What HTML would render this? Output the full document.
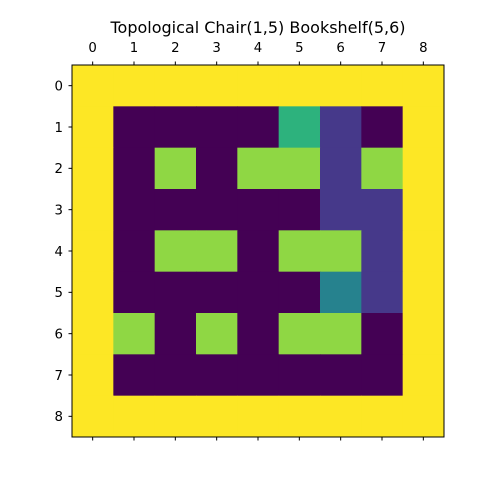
<!DOCTYPE html>
<html><head><meta charset="utf-8"><style>
body{margin:0;background:#fff;width:480px;height:480px;overflow:hidden}
text{font-family:"DejaVu Sans","Liberation Sans",sans-serif}
</style></head><body>
<svg id="chart" width="480" height="480"></svg>
<script>
const rowLabels = ["0","1","2","3","4","5","6","7","8"];
const colLabels = ["0","1","2","3","4","5","6","7","8"];
const palette = ["#440154","#46398a","#26828e","#2db27d","#8fd744","#fde725"];
const grid = [
 [5,5,5,5,5,5,5,5,5],
 [5,0,0,0,0,3,1,0,5],
 [5,0,4,0,4,4,1,4,5],
 [5,0,0,0,0,0,1,1,5],
 [5,0,4,4,0,4,4,1,5],
 [5,0,0,0,0,0,2,1,5],
 [5,4,0,4,0,4,4,0,5],
 [5,0,0,0,0,0,0,0,5],
 [5,5,5,5,5,5,5,5,5]
];
const title = "Topological Chair(1,5) Bookshelf(5,6)";
const NS="http://www.w3.org/2000/svg";
const svg=document.getElementById('chart');
const L=72,T=65,W=372,H=372;
const cw=W/colLabels.length, ch=H/rowLabels.length;
const x=i=>L+i*cw, y=i=>T+i*ch;
function mk(tag,attrs,parent){const e=document.createElementNS(NS,tag);for(const k in attrs)e.setAttribute(k,attrs[k]);(parent||svg).appendChild(e);return e;}
grid.forEach((row,r)=>row.forEach((v,c)=>{
  const e=mk('rect',{x:x(c),y:y(r),width:cw+0.5,height:ch+0.5,fill:palette[v]});
  
  
}));
const fr=mk('rect',{x:L,y:T,width:W,height:H,fill:'none',stroke:'#000','stroke-width':1});


colLabels.forEach((lab,i)=>{
  const cx=x(i)+cw/2;
  mk('line',{x1:cx,x2:cx,y1:T,y2:T-3.5,stroke:'#000'});
  mk('line',{x1:cx,x2:cx,y1:T+H,y2:T+H+3.5,stroke:'#000'});
  const t=mk('text',{x:cx,y:T-13,'text-anchor':'middle','font-size':'13.3'});t.textContent=lab;
  
  
});
rowLabels.forEach((lab,i)=>{
  const cy=y(i)+ch/2;
  mk('line',{x1:L,x2:L-3.5,y1:cy,y2:cy,stroke:'#000'});
  const t=mk('text',{x:L-9,y:cy+4.8,'text-anchor':'end','font-size':'13.3'});t.textContent=lab;
  
  
});
const tt=mk('text',{x:L+W/2,y:33,'text-anchor':'middle','font-size':'16'});tt.textContent=title;


</script>
</body></html>
